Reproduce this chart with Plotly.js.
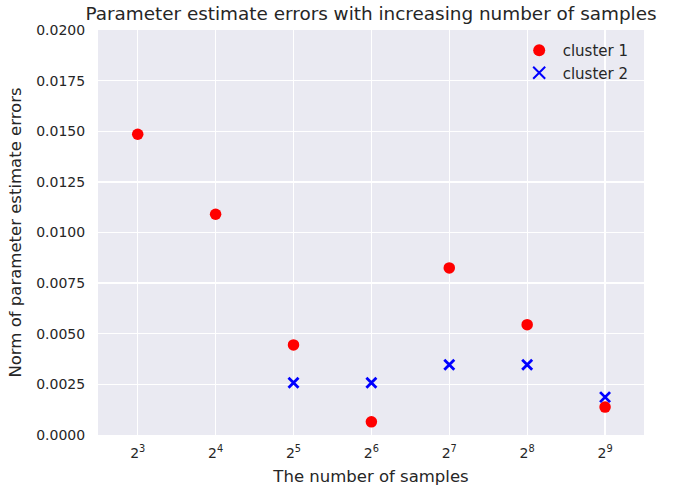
<!DOCTYPE html>
<html>
<head>
<meta charset="utf-8">
<script src="https://cdn.plot.ly/plotly-3.0.1.min.js"></script>
<style>html,body{margin:0;padding:0;background:#fff;}#chart{width:683px;height:488px;}</style>
</head>
<body>
<div id="chart"></div>
<script>
var samples = [8, 16, 32, 64, 128, 256, 512];
var cluster1 = [0.01485, 0.0109, 0.00445, 0.00065, 0.00825, 0.00545, 0.00138];
var samples2 = [32, 64, 128, 256, 512];
var cluster2 = [0.00258, 0.00258, 0.00347, 0.00347, 0.00187];
var tickLabels = ['2<sup>3</sup>','2<sup>4</sup>','2<sup>5</sup>','2<sup>6</sup>','2<sup>7</sup>','2<sup>8</sup>','2<sup>9</sup>'];
var yTicks = [0, 0.0025, 0.005, 0.0075, 0.01, 0.0125, 0.015, 0.0175, 0.02];
var yTickText = ['0.0000','0.0025','0.0050','0.0075','0.0100','0.0125','0.0150','0.0175','0.0200'];

var FF = 'DejaVu Sans, sans-serif';
var TC = '#262626';
var traces = [
  {x: samples, y: cluster1, type: 'scatter', mode: 'markers', name: 'cluster 1',
   marker: {color: '#ff0000', size: 11.5, symbol: 'circle'}},
  {x: samples2, y: cluster2, type: 'scatter', mode: 'markers', name: 'cluster 2',
   marker: {color: '#0000ff', size: 10, symbol: 'x-thin', line: {color: '#0000ff', width: 2.8}}}
];
var layout = {
  width: 683, height: 488,
  margin: {l: 98, r: 39, t: 30, b: 53},
  paper_bgcolor: '#ffffff',
  plot_bgcolor: '#EAEAF2',
  font: {family: FF, color: TC, size: 13},
  title: {text: 'Parameter estimate errors with increasing number of samples',
          font: {family: FF, size: 18.4, color: TC},
          x: 0.5, xref: 'paper', y: 0.986, yanchor: 'top'},
  xaxis: {type: 'log', range: [Math.log10(Math.pow(2, 2.49)), Math.log10(Math.pow(2, 9.5))],
          tickvals: samples, ticktext: tickLabels,
          showgrid: true, gridcolor: '#ffffff', gridwidth: 1.3, zeroline: false,
          showline: false, ticks: 'outside', ticklen: 5, tickcolor: 'rgba(0,0,0,0)',
          tickfont: {family: FF, size: 14, color: TC},
          title: {text: 'The number of samples', font: {family: FF, size: 16.5, color: TC}, standoff: 10}},
  yaxis: {range: [0, 0.02], tickvals: yTicks, ticktext: yTickText,
          showgrid: true, gridcolor: '#ffffff', gridwidth: 1.3, zeroline: false,
          showline: false, ticks: 'outside', ticklen: 9, tickcolor: 'rgba(0,0,0,0)',
          tickfont: {family: FF, size: 14, color: TC},
          title: {text: 'Norm of parameter estimate errors', font: {family: FF, size: 16.5, color: TC}, standoff: 10}},
  showlegend: true,
  legend: {x: 0.765, y: 0.99, xanchor: 'left', yanchor: 'top', bgcolor: 'rgba(0,0,0,0)',
           font: {family: FF, size: 15, color: TC}, itemsizing: 'constant', itemwidth: 37, tracegroupgap: 0}
};
Plotly.newPlot('chart', traces, layout, {displayModeBar: false, staticPlot: true});
</script>
</body>
</html>
